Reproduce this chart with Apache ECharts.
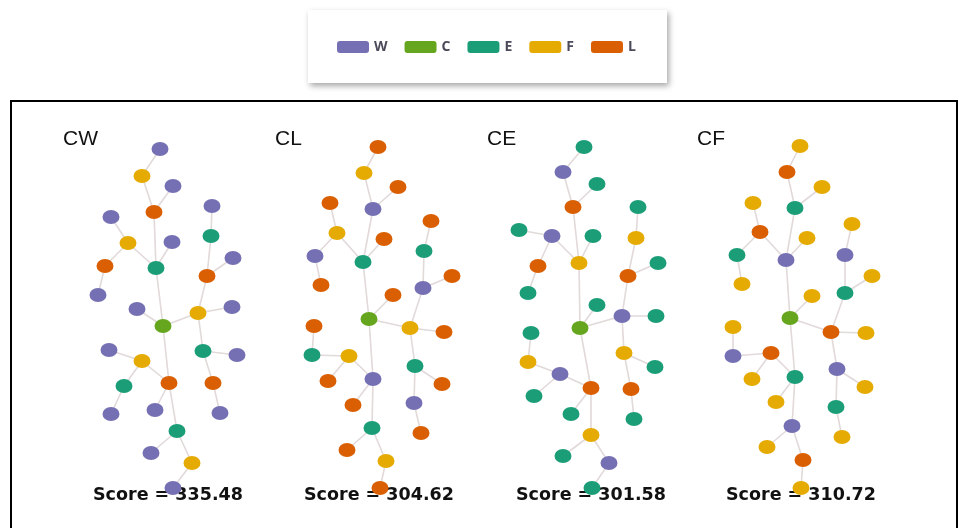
<!DOCTYPE html>
<html>
<head>
<meta charset="utf-8">
<script src="https://cdn.jsdelivr.net/npm/echarts@6/dist/echarts.min.js"></script>
<style>
html,body{margin:0;padding:0;background:#fff;}
#chart{width:959px;height:528px;}
</style>
</head>
<body>
<div id="chart"></div>
<script>
// ---- data ----
const categories = ['W', 'C', 'E', 'F', 'L'];
const panelNames = ['CW', 'CL', 'CE', 'CF'];
const scores = [335.48, 304.62, 301.58, 310.72];

// nodes: [x, y, type] in each panel's local units (y grows downward)
const cwNodes = [
  [97,49,'W'],[79,76,'F'],[110,86,'W'],[91,112,'L'],[149,106,'W'],[48,117,'W'],[148,136,'E'],[65,143,'F'],
  [109,142,'W'],[42,166,'L'],[93,168,'E'],[170,158,'W'],[144,176,'L'],[35,195,'W'],[74,209,'W'],[135,213,'F'],
  [169,207,'W'],[100,226,'C'],[46,250,'W'],[79,261,'F'],[140,251,'E'],[174,255,'W'],[61,286,'E'],[106,283,'L'],
  [150,283,'L'],[48,314,'W'],[92,310,'W'],[157,313,'W'],[114,331,'E'],[88,353,'W'],[129,363,'F'],[110,388,'W']
];
const cwLinks = [
  [0,1],[1,3],[2,3],[3,10],[5,7],[7,10],[7,9],[9,13],[8,10],[10,17],[14,17],[4,6],[6,12],[11,12],[12,15],[15,16],
  [15,17],[15,20],[20,21],[20,24],[24,27],[17,23],[18,19],[19,23],[19,22],[22,25],[23,26],[23,28],[28,29],[28,30],[30,31]
];

const clNodes = [
  [108,47,'L'],[94,73,'F'],[128,87,'L'],[60,103,'L'],[103,109,'W'],[161,121,'L'],[67,133,'F'],[114,139,'L'],
  [154,151,'E'],[45,156,'W'],[93,162,'E'],[182,176,'L'],[51,185,'L'],[153,188,'W'],[123,195,'L'],[99,219,'C'],
  [44,226,'L'],[140,228,'F'],[174,232,'L'],[42,255,'E'],[79,256,'F'],[145,266,'E'],[58,281,'L'],[103,279,'W'],
  [172,284,'L'],[83,305,'L'],[144,303,'W'],[102,328,'E'],[151,333,'L'],[77,350,'L'],[116,361,'F'],[110,388,'L']
];
const clLinks = [
  [0,1],[1,4],[2,4],[4,10],[3,6],[6,9],[9,12],[6,10],[7,10],[10,15],[5,8],[8,13],[11,13],[13,17],[14,15],[15,17],
  [17,18],[17,21],[21,24],[21,26],[26,28],[15,23],[16,19],[19,20],[20,22],[20,23],[23,25],[23,27],[27,29],[27,30],[30,31]
];

const ceNodes = [
  [104,47,'E'],[83,72,'W'],[117,84,'E'],[93,107,'L'],[158,107,'E'],[39,130,'E'],[72,136,'W'],[113,136,'E'],
  [156,138,'F'],[58,166,'L'],[99,163,'F'],[178,163,'E'],[148,176,'L'],[48,193,'E'],[117,205,'E'],[142,216,'W'],
  [176,216,'E'],[100,228,'C'],[51,233,'E'],[144,253,'F'],[48,262,'F'],[175,267,'E'],[80,274,'W'],[111,288,'L'],
  [151,289,'L'],[54,296,'E'],[91,314,'E'],[154,319,'E'],[111,335,'F'],[83,356,'E'],[129,363,'W'],[112,388,'E']
];
const ceLinks = [
  [0,1],[1,3],[2,3],[3,10],[5,6],[6,10],[6,9],[9,13],[7,10],[10,17],[4,8],[8,12],[11,12],[12,15],[15,16],[14,17],
  [15,17],[15,19],[19,21],[19,24],[24,27],[17,23],[18,20],[20,22],[22,23],[22,25],[23,26],[23,28],[28,29],[28,30],[30,31]
];

const cfNodes = [
  [110,46,'F'],[97,72,'L'],[132,87,'F'],[63,103,'F'],[105,108,'E'],[162,124,'F'],[70,132,'L'],[117,138,'F'],
  [47,155,'E'],[96,160,'W'],[155,155,'W'],[182,176,'F'],[52,184,'F'],[155,193,'E'],[122,196,'F'],[100,218,'C'],
  [43,227,'F'],[141,232,'L'],[176,233,'F'],[43,256,'W'],[81,253,'L'],[147,269,'W'],[105,277,'E'],[62,279,'F'],
  [175,287,'F'],[86,302,'F'],[146,307,'E'],[102,326,'W'],[152,337,'F'],[77,347,'F'],[113,360,'L'],[111,388,'F']
];
const cfLinks = [
  [0,1],[1,4],[2,4],[4,9],[3,6],[6,8],[8,12],[6,9],[7,9],[9,15],[5,10],[10,13],[11,13],[13,17],[14,15],[15,17],
  [17,18],[17,21],[21,24],[21,26],[26,28],[15,22],[16,19],[19,20],[20,23],[20,22],[22,25],[22,27],[27,29],[27,30],[30,31]
];

const panelNodes = [cwNodes, clNodes, ceNodes, cfNodes];
const panelLinks = [cwLinks, clLinks, ceLinks, cfLinks];

// ---- style / layout ----
const palette = { W: '#7570b3', C: '#66a61e', E: '#1b9e77', F: '#e6ab02', L: '#d95f02' };
const gridLefts = [63, 270, 480, 690];
const titleLefts = [58, 270, 482, 692];
const scoreLefts = [88, 299, 511, 721];

const chart = echarts.init(document.getElementById('chart'));

const grids = [], xAxes = [], yAxes = [], series = [], titles = [];
panelNames.forEach(function (name, i) {
  grids.push({ left: gridLefts[i], top: 100, width: 200, height: 400 });
  xAxes.push({ type: 'value', gridIndex: i, min: 0, max: 200, show: false });
  yAxes.push({ type: 'value', gridIndex: i, min: 0, max: 400, inverse: true, show: false });
  titles.push({
    text: name, left: titleLefts[i], top: 124, z: 0,
    textStyle: { fontFamily: 'Liberation Sans', fontSize: 21, fontWeight: 'normal', color: '#111' }
  });
  titles.push({
    text: 'Score = ' + scores[i].toFixed(2), left: scoreLefts[i], top: 481, z: 0,
    textStyle: { fontFamily: 'DejaVu Sans', fontSize: 17.5, fontWeight: 'bold', color: '#111' }
  });
  series.push({
    type: 'graph',
    name: name,
    coordinateSystem: 'cartesian2d',
    xAxisIndex: i, yAxisIndex: i,
    z: 3,
    symbol: 'circle',
    symbolSize: [17, 14],
    categories: categories.map(function (c) { return { name: c, itemStyle: { color: palette[c] } }; }),
    data: panelNodes[i].map(function (n) {
      return { value: [n[0], n[1]], category: categories.indexOf(n[2]) };
    }),
    links: panelLinks[i].map(function (l) { return { source: l[0], target: l[1] }; }),
    lineStyle: { color: '#e2d9d9', width: 1.6, opacity: 1, curveness: 0 },
    label: { show: false },
    emphasis: { disabled: true },
    animation: false
  });
});

chart.setOption({
  animation: false,
  backgroundColor: '#ffffff',
  title: titles,
  graphic: [
    {
      type: 'rect', z: 0,
      shape: { x: 308, y: 10, width: 359, height: 73 },
      style: { fill: '#ffffff', shadowBlur: 6, shadowOffsetX: 2, shadowOffsetY: 3, shadowColor: 'rgba(0,0,0,0.35)' }
    },
    {
      type: 'rect', z: 0,
      shape: { x: 11, y: 101, width: 946, height: 480 },
      style: { fill: 'none', stroke: '#000', lineWidth: 2 }
    }
  ],
  legend: {
    data: categories,
    left: 337, top: 40, padding: 0,
    itemWidth: 32, itemHeight: 12, itemGap: 17,
    icon: 'roundRect',
    z: 10,
    textStyle: { fontFamily: 'Open Sans', fontSize: 14, fontWeight: 'bold', color: '#4a4a5a' },
    selectedMode: false
  },
  grid: grids,
  xAxis: xAxes,
  yAxis: yAxes,
  series: series
});
</script>
</body>
</html>
